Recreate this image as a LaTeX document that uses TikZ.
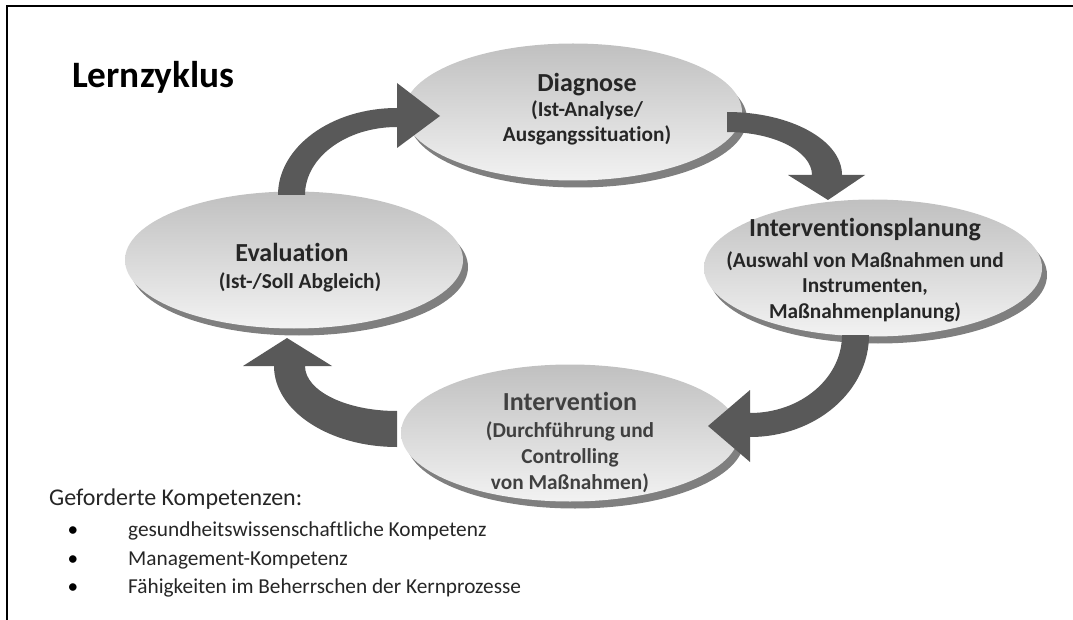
\documentclass[tikz,border=0pt]{standalone}
\usepackage{fontspec}
\setmainfont{Carlito}[RawFeature={-liga;-clig;-calt;-dlig}]
\usetikzlibrary{shapes.geometric,shadows}

\definecolor{arrowgray}{HTML}{595959}
\definecolor{shadowgray}{HTML}{7F7F7F}
\definecolor{topgray}{HTML}{C0C0C0}
\definecolor{botgray}{HTML}{F2F2F2}
\definecolor{textdark}{HTML}{262626}
\definecolor{textmid}{HTML}{404040}

\begin{document}
\begin{tikzpicture}[x=1pt,y=-1pt,
  stage/.style={ellipse, minimum width=338pt, minimum height=137pt, inner sep=0pt,
    top color=topgray, bottom color=botgray, draw=none,
    drop shadow={shadow xshift=5pt, shadow yshift=-7pt, fill=shadowgray, opacity=1}},
  headtext/.style={anchor=base, inner sep=0pt, text=textdark,
    font=\fontsize{26}{30}\selectfont\bfseries},
  subtext/.style={anchor=base, inner sep=0pt, text=textdark,
    font=\fontsize{21.3}{25}\selectfont\bfseries},
  bodytext/.style={anchor=base west, inner sep=0pt, text=textdark,
    font=\fontsize{21.3}{25}\selectfont},
  bendarrow/.style={fill=arrowgray, draw=none}
]
\useasboundingbox (0,0) rectangle (1073,620);

% frame lines (top and left)
\draw[line width=2pt] (1073,6) -- (7,6) -- (7,620);

% title
\node[anchor=base west, inner sep=0pt, font=\fontsize{37.3}{44}\selectfont\bfseries]
  (title) at (72,88) {Lernzyklus};

% the four stages
\node[stage] (diag) at (573,112) {};
\node[stage] (plan) at (873,268) {};
\node[stage] (eval) at (294,260) {};
\node[stage] (intv) at (570,433) {};

% stage texts
\node[headtext] (diagH)  at (587,92) {Diagnose};
\node[subtext]  (diagS1) at (587,117) {(Ist-Analyse/};
\node[subtext]  (diagS2) at (587,142) {Ausgangssituation)};

\node[headtext] (planH)  at (865,236.5) {Interventionsplanung};
\node[subtext]  (planS1) at (865,267.5) {(Auswahl von Maßnahmen und};
\node[subtext]  (planS2) at (865,293) {Instrumenten,};
\node[subtext]  (planS3) at (865,318.5) {Maßnahmenplanung)};

\node[headtext] (evalH)  at (292,261.5) {Evaluation};
\node[subtext]  (evalS1) at (300,288.5) {(Ist-/Soll Abgleich)};

\node[headtext, text=textmid] (intvH)  at (570,410) {Intervention};
\node[subtext, text=textmid]  (intvS1) at (570,437.5) {(Durchführung und};
\node[subtext, text=textmid]  (intvS2) at (570,463.5) {Controlling};
\node[subtext, text=textmid]  (intvS3) at (570,489.5) {von Maßnahmen)};

% bend points of the curved block arrows
\coordinate (c1) at (397,195);
\coordinate (c2) at (727,175);
\coordinate (c3) at (750,335);
\coordinate (c4) at (397,366);

% Evaluation -> Diagnose
\begin{scope}[shift={(c1)}]
  \fill[bendarrow] (-119,0) .. controls (-119,-48) and (-65.7,-87) .. (0,-87)
    -- (0,-112) -- (43,-79) -- (0,-47) -- (0,-68)
    .. controls (-50.8,-68) and (-92,-37.6) .. (-92,0) -- cycle;
\end{scope}
% Diagnose -> Interventionsplanung
\begin{scope}[shift={(c2)}]
  \fill[bendarrow] (0,-63) .. controls (63.5,-63) and (115,-34.8) .. (115,0)
    -- (138,0) -- (101,25) -- (61,0) -- (85,0)
    .. controls (85,-23.7) and (46.9,-43) .. (0,-43) -- cycle;
\end{scope}
% Interventionsplanung -> Intervention
\begin{scope}[shift={(c3)}]
  \fill[bendarrow] (119,0) .. controls (119,56.3) and (65.7,102) .. (0,102)
    -- (0,127) -- (-42,91) -- (0,55) -- (0,78)
    .. controls (50.8,78) and (92,43.1) .. (92,0) -- cycle;
\end{scope}
% Intervention -> Evaluation
\begin{scope}[shift={(c4)}]
  \fill[bendarrow] (0,81) .. controls (-67.9,81) and (-123,44.7) .. (-123,0)
    -- (-154,0) -- (-110,-28) -- (-65,0) -- (-92,0)
    .. controls (-92,24.9) and (-50.8,45) .. (0,45) -- cycle;
\end{scope}

% required competences
\node[anchor=base west, inner sep=0pt, text=textdark, font=\fontsize{24}{28}\selectfont]
  (req) at (49,505) {Geforderte Kompetenzen:};
\node[anchor=base, inner sep=0pt, font=\fontsize{21.3}{25}\selectfont] (b1) at (73,536) {•};
\node[anchor=base, inner sep=0pt, font=\fontsize{21.3}{25}\selectfont] (b2) at (73,565) {•};
\node[anchor=base, inner sep=0pt, font=\fontsize{21.3}{25}\selectfont] (b3) at (73,593.5) {•};
\node[bodytext] (k1) at (128,536) {gesundheitswissenschaftliche Kompetenz};
\node[bodytext] (k2) at (128,565) {Management-Kompetenz};
\node[bodytext] (k3) at (128,593.5) {Fähigkeiten im Beherrschen der Kernprozesse};
\end{tikzpicture}
\end{document}
